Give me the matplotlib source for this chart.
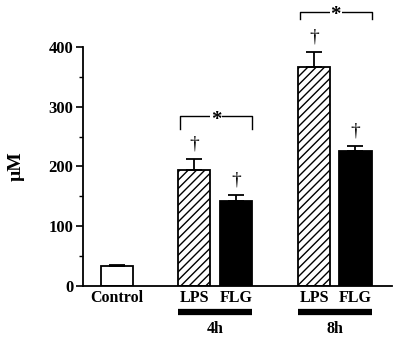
import numpy as np
import matplotlib
matplotlib.use("Agg")
import matplotlib.pyplot as plt

plt.rcParams['font.family'] = ['Liberation Serif', 'DejaVu Serif']
plt.rcParams['font.weight'] = 'bold'
plt.rcParams['hatch.linewidth'] = 1.0

# podatki
labels = ["Control", "LPS", "FLG", "LPS", "FLG"]
vrednosti = [33, 194, 143, 366, 226]   # uM
napake = [3, 18, 9, 25, 9]
poz = np.array([0, 2.42, 3.72, 6.16, 7.45])
skupine = ["4h", "8h"]

fig = plt.figure(figsize=(4, 3.39), dpi=100)
ax = fig.add_axes([0.2075, 0.1563, 0.7725, 0.7051])

w = 1.0
vzorci = ["", "////", "", "////", ""]
barve = ["white", "white", "black", "white", "black"]
for x, v, e, h, c in zip(poz, vrednosti, napake, vzorci, barve):
    ax.bar(x, v, width=w, color=c, edgecolor="black", hatch=h, linewidth=1.3, zorder=2)
    ax.errorbar(x, v, yerr=[[0], [e]], fmt="none", ecolor="black", elinewidth=1.3,
                capsize=5.5, capthick=1.3, zorder=3)
    if x > 0:
        ax.text(x, v + e + 25, "\u2020", ha="center", va="center", fontsize=14, fontweight="normal")

ax.set_xlim(-1.06, 8.59)
ax.set_ylim(0, 400)
ax.set_yticks([0, 100, 200, 300, 400])
ax.set_yticks([50, 150, 250, 350], minor=True)
ax.tick_params(axis="y", which="major", length=5, width=1.2, labelsize=12, pad=2)
ax.tick_params(axis="y", which="minor", length=3, width=1.0)
ax.set_xticks(poz)
ax.set_xticklabels(labels, fontsize=11.5)
ax.tick_params(axis="x", length=0, pad=3)
for s in ["top", "right"]:
    ax.spines[s].set_visible(False)
for s in ["left", "bottom"]:
    ax.spines[s].set_linewidth(1.3)
ax.set_ylabel("\u00b5M", fontsize=14, fontweight="bold", labelpad=17)

# oklepaji z zvezdico
for i, (top, dol) in enumerate([(284, 262), (459, 447)]):
    x0 = poz[1 + 2 * i] - w / 2 + 0.05
    x1 = poz[2 + 2 * i] + w / 2
    ax.plot([x0, x0, x1, x1], [dol, top, top, dol], color="black", lw=1.0,
            clip_on=False, zorder=3)
    ax.text((x0 + x1) / 2, top - 6, "*", ha="center", va="center", fontsize=15,
            bbox=dict(facecolor="white", edgecolor="none", pad=0.5), clip_on=False, zorder=4)

# crte za skupine
for i, g in enumerate(skupine):
    x0 = poz[1 + 2 * i] - w / 2
    x1 = poz[2 + 2 * i] + w / 2
    ax.plot([x0, x1], [-43, -43], color="black", lw=4.5, solid_capstyle="butt", clip_on=False)
    ax.text((x0 + x1) / 2, -72, g, ha="center", va="center", fontsize=11.5)

fig.savefig("out.png", dpi=100)
